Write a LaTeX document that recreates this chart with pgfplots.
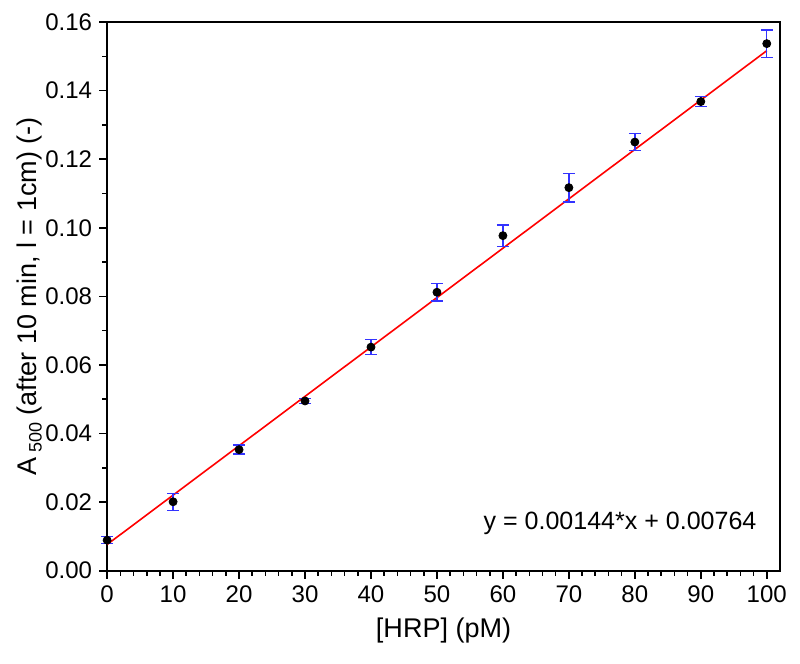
\documentclass[border=0pt]{standalone}
\usepackage{pgfplots}
\pgfplotsset{compat=1.18}
\usepackage{fontspec}
\setmainfont{Liberation Sans}
\begin{document}
\begin{tikzpicture}
\begin{axis}[
  scale only axis,
  width=336pt, height=274pt,
  xmin=0, xmax=102, ymin=0, ymax=0.16,
  xtick={0,10,...,100},
  ytick={0,0.02,...,0.16},
  minor x tick num=4,
  minor y tick num=1,
  tick align=outside,
  xtick pos=bottom, ytick pos=left,
  major tick length=4pt, minor tick length=2.5pt,
  axis line style={line width=1pt},
  every tick/.style={black, line width=0.8pt},
  tick label style={font=\fontsize{12}{14}\selectfont},
  /pgf/number format/assume math mode=true,
  yticklabel style={/pgf/number format/fixed, /pgf/number format/fixed zerofill, /pgf/number format/precision=2},
  scaled y ticks=false,
  xlabel={[HRP] (pM)},
  ylabel={A\,\raisebox{-0.35ex}{\fontsize{9}{10}\selectfont 500} (after 10 min, l = 1cm) (-)},
  xlabel style={at={(axis description cs:0.5,-0.109)}, anchor=center, font=\fontsize{13.5}{15}\selectfont},
  ylabel style={at={(axis description cs:-0.115,0.5)}, anchor=center, font=\fontsize{13.5}{15}\selectfont},
  clip=false,
]
\addplot[red, line width=0.8pt, no marks] coordinates {(0,0.00764) (100,0.15164)};
\addplot[only marks, mark=*, mark size=2pt, black,
  error bars/.cd, y dir=both, y explicit,
  error bar style={draw=blue!80!white, line width=0.7pt},
  error mark options={rotate=90, mark size=3pt, draw=blue!80!white, fill=blue!80!white, line width=0.7pt}]
  coordinates {
  (0,0.0089) +- (0,0.0010)
  (10,0.0201) +- (0,0.0025)
  (20,0.0353) +- (0,0.0013)
  (30,0.0495) +- (0,0.0008)
  (40,0.0652) +- (0,0.0022)
  (50,0.0812) +- (0,0.0026)
  (60,0.0977) +- (0,0.0031)
  (70,0.1117) +- (0,0.0042)
  (80,0.1250) +- (0,0.0025)
  (90,0.1368) +- (0,0.0015)
  (100,0.1537) +- (0,0.0040)
  };
\node[anchor=east, font=\fontsize{12.5}{14}\selectfont] at (axis cs:99.5,0.0137) {y = 0.00144*x + 0.00764};
\end{axis}
\useasboundingbox (current axis.south west)++(-53.5pt,-46.5pt) rectangle ([shift={(10pt,11pt)}]current axis.north east);
\end{tikzpicture}
\end{document}
